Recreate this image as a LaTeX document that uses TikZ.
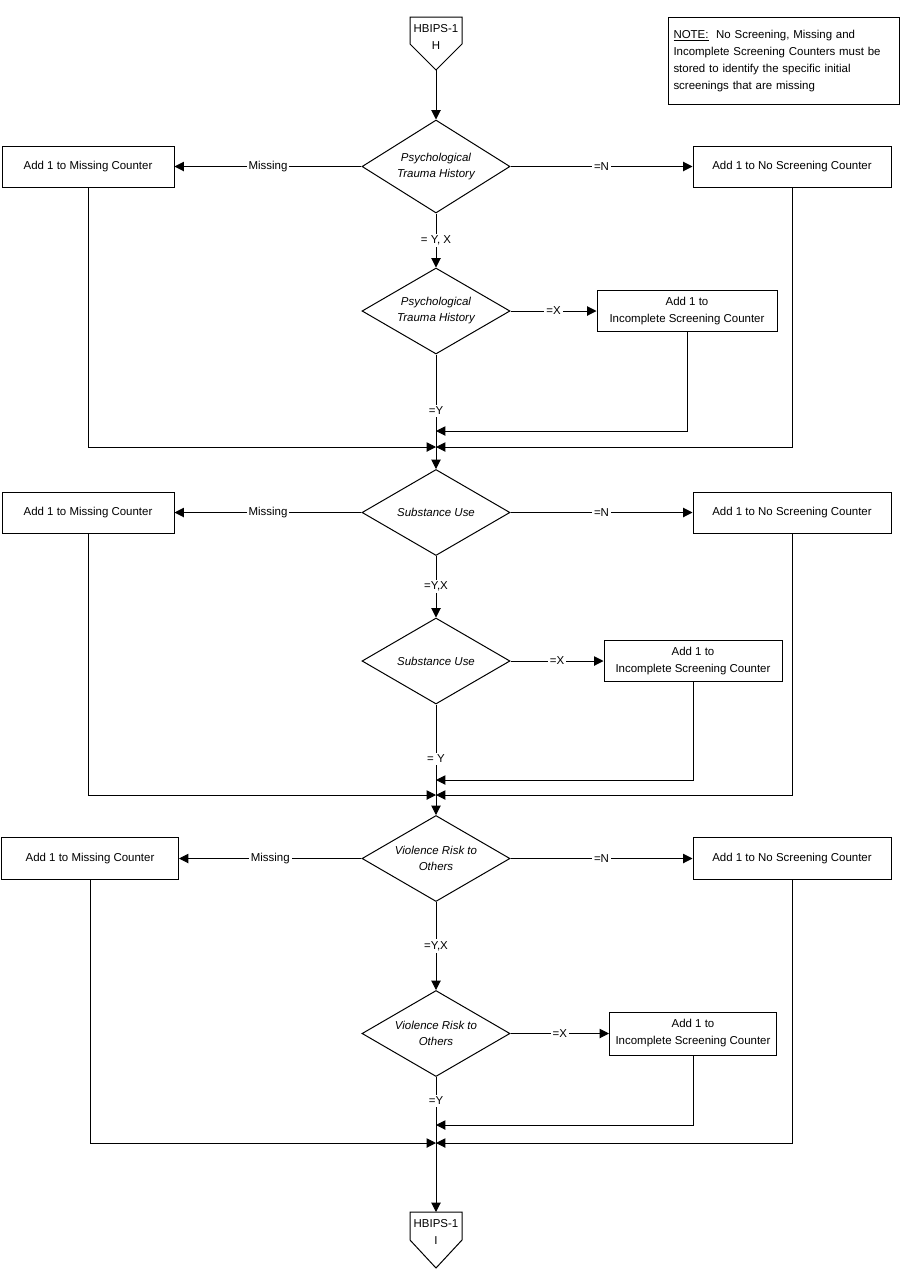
\documentclass[tikz,border=0pt]{standalone}
\usepackage{fontspec}
\setmainfont{Liberation Sans}
\usetikzlibrary{shapes.geometric,arrows.meta}

\tikzset{
  box/.style={draw, rectangle, align=center, minimum height=30.75pt, inner sep=2pt},
  decision/.style={draw, diamond, aspect=1.72, inner sep=0pt, align=center,
    minimum width=111pt, minimum height=64.5pt, font=\fontsize{8.6}{12}\selectfont\itshape},
  lbl/.style={fill=white, inner sep=1.5pt},
  arr/.style={-{Triangle[length=7pt,width=7pt]}}
}

\begin{document}
\begin{tikzpicture}[x=0.75pt, y=-0.75pt, line width=0.75pt,
    font=\fontsize{8.6}{12.75}\selectfont]
  \useasboundingbox (0,0) rectangle (900,1286);

  % note
  \node[draw, anchor=north west, text width=165.75pt, inner xsep=3.75pt, minimum height=65.25pt, align=left] (note) at (668,17)
    {\underline{NOTE:}\ \ No Screening, Missing and\\Incomplete Screening Counters must be\\stored to identify the specific initial\\screenings that are missing};

  % off page connectors
  \node[align=center] (hbA) at (436,36.5) {HBIPS-1\\H};
  \draw (410,17) -- (462,17) -- (462,44) -- (436,70) -- (410,44) -- cycle;
  \coordinate (hbAtip) at (436,70);
  \node[align=center] (hbB) at (436,1231.5) {HBIPS-1\\I};
  \draw (410,1212) -- (462,1212) -- (462,1240) -- (436,1268) -- (410,1240) -- cycle;
  \coordinate (hbBtop) at (436,1212);

  % psychological trauma history
  \node[decision, minimum height=69.75pt] (q1) at (436,166.5) {Psychological\\Trauma History};
  \node[box, minimum width=129pt] (m1) at (88,166.5) {Add 1 to Missing Counter};
  \node[box, minimum width=148.5pt] (n1) at (792,166.5) {Add 1 to No Screening Counter};
  \node[decision] (r1) at (436,311) {Psychological\\Trauma History};
  \node[box, minimum width=135pt] (i1) at (687,311) {Add 1 to\\Incomplete Screening Counter};
  \coordinate (k1) at (436,431);
  \coordinate (j1) at (436,447);

  % substance use
  \node[decision] (q2) at (436,512.5) {Substance Use};
  \node[box, minimum width=129pt] (m2) at (88,512.5) {Add 1 to Missing Counter};
  \node[box, minimum width=148.5pt] (n2) at (792,512.5) {Add 1 to No Screening Counter};
  \node[decision] (r2) at (436,661) {Substance Use};
  \node[box, minimum width=133.5pt] (i2) at (693,661) {Add 1 to\\Incomplete Screening Counter};
  \coordinate (k2) at (436,780);
  \coordinate (j2) at (436,795);

  % violence risk
  \node[decision] (q3) at (436,858.5) {Violence Risk to\\Others};
  \node[box, minimum width=132.75pt, minimum height=31.5pt] (m3) at (90,858.5) {Add 1 to Missing Counter};
  \node[box, minimum width=148.5pt, minimum height=31.5pt] (n3) at (792,858.5) {Add 1 to No Screening Counter};
  \node[decision] (r3) at (436,1033.5) {Violence Risk to\\Others};
  \node[box, minimum width=125.25pt, minimum height=32.25pt] (i3) at (693,1033.5) {Add 1 to\\Incomplete Screening Counter};
  \coordinate (k3) at (436,1125);
  \coordinate (j3) at (436,1143);

  \draw[arr] (hbAtip) -- (q1);
  \foreach \s in {1,2,3} {
    \draw[arr] (q\s) -- node[lbl] {Missing} (m\s);
    \draw[arr] (q\s) -- node[lbl] {=N} (n\s);
    \draw[arr] (r\s) -- node[lbl] {=X} (i\s);
    \draw[arr] (m\s) |- (j\s);
    \draw[arr] (n\s) |- (j\s);
    \draw[arr] (i\s) |- (k\s);
  }
  \draw[arr] (q1) -- node[lbl] {= Y, X} (r1);
  \draw[arr] (q2) -- node[lbl] {=Y,X} (r2);
  \draw[arr] (q3) -- node[lbl] {=Y,X} (r3);
  \draw (r1) -- node[lbl, pos=0.61] {=Y} (j1);
  \draw (r2) -- node[lbl, pos=0.6] {= Y} (j2);
  \draw (r3) -- node[lbl, pos=0.36] {=Y} (j3);
  \draw[arr] (j1) -- (q2);
  \draw[arr] (j2) -- (q3);
  \draw[arr] (j3) -- (hbBtop);
\end{tikzpicture}
\end{document}
